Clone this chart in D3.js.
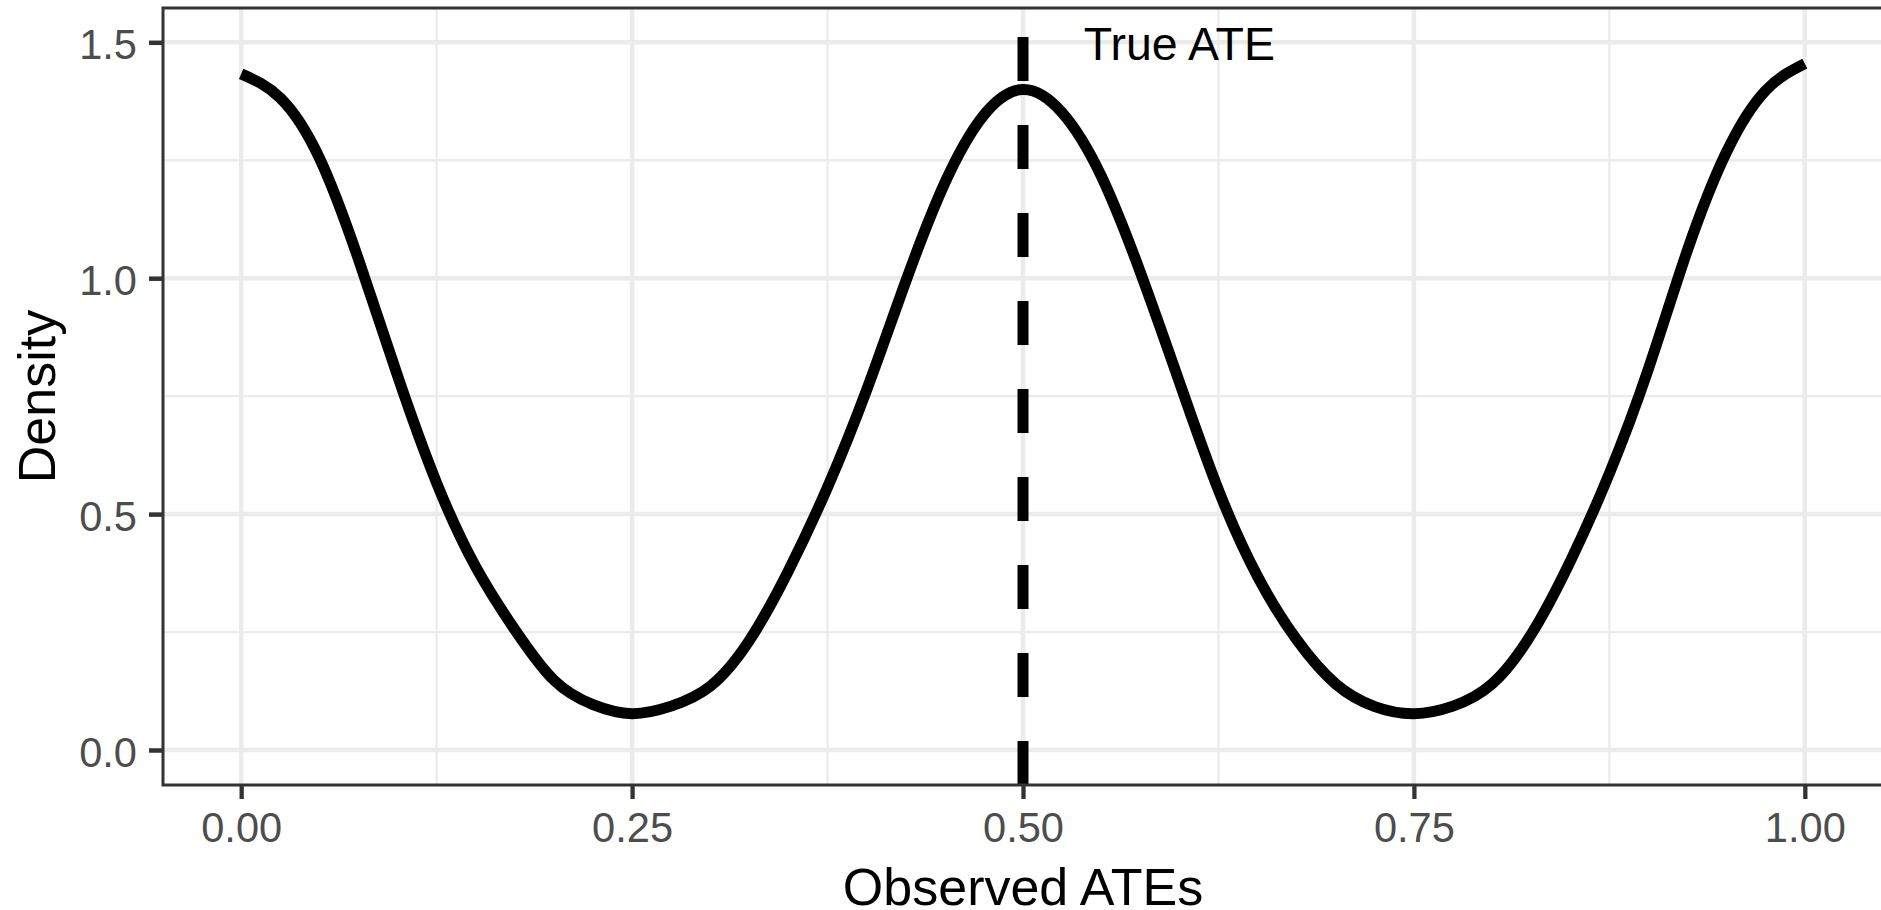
<!DOCTYPE html>
<html>
<head>
<meta charset="utf-8">
<script src="https://cdn.jsdelivr.net/npm/d3@7"></script>
<style>
  html, body { margin: 0; padding: 0; background: #ffffff; }
  svg { display: block; font-family: "Liberation Sans", Arial, sans-serif; }
</style>
</head>
<body>
<svg id="chart" width="1881" height="910"></svg>
<script>
// ---- data ----
const densityX = [0.000, 0.025, 0.050, 0.075, 0.100, 0.125, 0.150, 0.175, 0.200, 0.225,
                  0.250, 0.275, 0.300, 0.325, 0.350, 0.375, 0.400, 0.425, 0.450, 0.475,
                  0.500, 0.525, 0.550, 0.575, 0.600, 0.625, 0.650, 0.675, 0.700, 0.725,
                  0.750, 0.775, 0.800, 0.825, 0.850, 0.875, 0.900, 0.925, 0.950, 0.975, 1.000];
const densityY = [1.433, 1.382, 1.255, 1.040, 0.793, 0.566, 0.388, 0.255, 0.148, 0.096,
                  0.077, 0.093, 0.135, 0.232, 0.380, 0.557, 0.763, 0.993, 1.202, 1.346,
                  1.400, 1.351, 1.217, 1.013, 0.780, 0.551, 0.368, 0.234, 0.140, 0.092,
                  0.077, 0.093, 0.140, 0.245, 0.400, 0.586, 0.808, 1.060, 1.268, 1.398, 1.455];
const trueATE = 0.5;
const annotationLabel = "True ATE";
const annotationX = 0.6;
const annotationY = 1.5;
const xTicks = [0, 0.25, 0.5, 0.75, 1.0];
const xMinorTicks = [0.125, 0.375, 0.625, 0.875];
const yTicks = [0, 0.5, 1.0, 1.5];
const yMinorTicks = [0.25, 0.75, 1.25];
const xTitle = "Observed ATEs";
const yTitle = "Density";

// ---- layout ----
const panel = { left: 163, top: 8, right: 1883, bottom: 785 };
const svg = d3.select("#chart");

const x = d3.scaleLinear().domain([-0.05, 1.05]).range([panel.left, panel.right]);
const y = d3.scaleLinear().domain([-0.0742, 1.5727]).range([panel.bottom, panel.top]);

const grid = svg.append("g");
// minor grid
grid.selectAll(".vminor").data(xMinorTicks).enter().append("line")
  .attr("x1", d => x(d)).attr("x2", d => x(d))
  .attr("y1", panel.top).attr("y2", panel.bottom)
  .attr("stroke", "#EBEBEB").attr("stroke-width", 2.3);
grid.selectAll(".hminor").data(yMinorTicks).enter().append("line")
  .attr("y1", d => y(d)).attr("y2", d => y(d))
  .attr("x1", panel.left).attr("x2", panel.right)
  .attr("stroke", "#EBEBEB").attr("stroke-width", 2.3);
// major grid
grid.selectAll(".vmajor").data(xTicks).enter().append("line")
  .attr("x1", d => x(d)).attr("x2", d => x(d))
  .attr("y1", panel.top).attr("y2", panel.bottom)
  .attr("stroke", "#EBEBEB").attr("stroke-width", 4.5);
grid.selectAll(".hmajor").data(yTicks).enter().append("line")
  .attr("y1", d => y(d)).attr("y2", d => y(d))
  .attr("x1", panel.left).attr("x2", panel.right)
  .attr("stroke", "#EBEBEB").attr("stroke-width", 4.5);

// density curve
const pts = densityX.map((d, i) => [d, densityY[i]]);
const line = d3.line().x(d => x(d[0])).y(d => y(d[1])).curve(d3.curveNatural);
svg.append("path")
  .datum(pts)
  .attr("d", line)
  .attr("fill", "none")
  .attr("stroke", "#000000")
  .attr("stroke-width", 11)
  .attr("stroke-linejoin", "round")
  .attr("stroke-linecap", "butt");

// true ATE dashed vertical line (drawn from bottom to top)
svg.append("line")
  .attr("x1", x(trueATE)).attr("x2", x(trueATE))
  .attr("y1", panel.bottom).attr("y2", panel.top)
  .attr("stroke", "#000000")
  .attr("stroke-width", 11)
  .attr("stroke-dasharray", "44,44");

// annotation
svg.append("text")
  .attr("x", x(annotationX))
  .attr("y", y(annotationY) + 17.5)
  .attr("text-anchor", "middle")
  .attr("font-size", 46.5)
  .attr("fill", "#000000")
  .text(annotationLabel);

// panel border
svg.append("rect")
  .attr("x", panel.left).attr("y", panel.top)
  .attr("width", panel.right - panel.left).attr("height", panel.bottom - panel.top)
  .attr("fill", "none").attr("stroke", "#333333").attr("stroke-width", 3);

// axes
const xAxis = svg.append("g")
  .attr("transform", `translate(0,${panel.bottom})`)
  .call(d3.axisBottom(x).tickValues(xTicks).tickFormat(d3.format(".2f")).tickSize(14).tickSizeOuter(0));
xAxis.select(".domain").remove();
xAxis.selectAll(".tick line").attr("stroke", "#333333").attr("stroke-width", 4.3);
xAxis.selectAll(".tick text")
  .attr("y", 57).attr("dy", null)
  .attr("font-size", 41.6).attr("fill", "#4D4D4D")
  .attr("font-family", "'Liberation Sans', Arial, sans-serif");

const yAxis = svg.append("g")
  .attr("transform", `translate(${panel.left},0)`)
  .call(d3.axisLeft(y).tickValues(yTicks).tickFormat(d3.format(".1f")).tickSize(14).tickSizeOuter(0));
yAxis.select(".domain").remove();
yAxis.selectAll(".tick line").attr("stroke", "#333333").attr("stroke-width", 4.5);
yAxis.selectAll(".tick text")
  .attr("x", -26).attr("dy", 16.5)
  .attr("font-size", 41.6).attr("fill", "#4D4D4D")
  .attr("font-family", "'Liberation Sans', Arial, sans-serif");

// axis titles
svg.append("text")
  .attr("x", (panel.left + panel.right) / 2)
  .attr("y", 905)
  .attr("text-anchor", "middle")
  .attr("font-size", 52)
  .attr("fill", "#000000")
  .text(xTitle);

svg.append("text")
  .attr("transform", `translate(55,${(panel.top + panel.bottom) / 2}) rotate(-90)`)
  .attr("text-anchor", "middle")
  .attr("font-size", 52)
  .attr("fill", "#000000")
  .text(yTitle);
</script>
</body>
</html>
